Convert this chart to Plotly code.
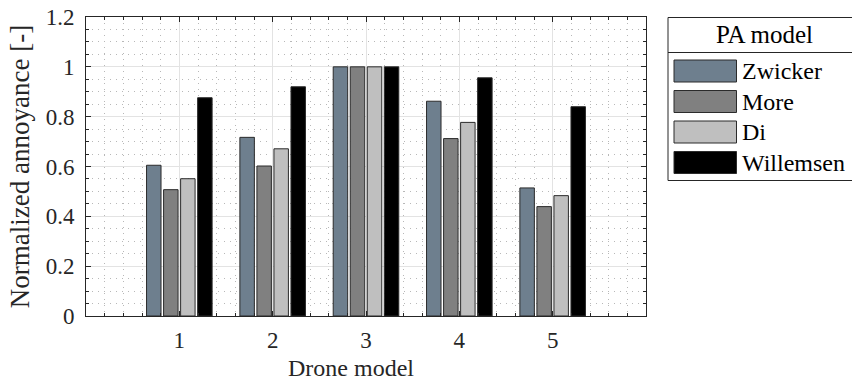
import plotly.graph_objects as go

# Normalized annoyance per drone model, one series per psychoacoustic model
drone_models = [1, 2, 3, 4, 5]
zwicker = [0.605, 0.717, 1.0, 0.862, 0.514]
more = [0.507, 0.602, 1.0, 0.712, 0.439]
di = [0.551, 0.671, 1.0, 0.777, 0.483]
willemsen = [0.876, 0.920, 1.0, 0.956, 0.840]

series_names = ["Zwicker", "More", "Di", "Willemsen"]
series_values = [zwicker, more, di, willemsen]
series_colors = ["#6e7f8e", "#808080", "#bfbfbf", "#000000"]

FONT = "Liberation Serif"
W, H = 852, 384
L, R, T, B = 86, 206, 17, 68

fig = go.Figure()
for name, vals, col in zip(series_names, series_values, series_colors):
    fig.add_trace(go.Bar(
        x=drone_models, y=vals, name=name,
        marker=dict(color=col, line=dict(color="#2b2b2b", width=1)),
        showlegend=False,
    ))

minor_grid = dict(ticks="inside", ticklen=3, tickcolor="#262626",
                  showgrid=True, gridcolor="#b8b8b8", griddash="1px,5px", gridwidth=1)

axis_common = dict(
    showline=True, linecolor="#262626", linewidth=1, mirror="ticks",
    ticks="inside", ticklen=5, tickcolor="#262626",
    showgrid=True, gridcolor="#e3e3e3", gridwidth=1,
    zeroline=False, automargin=False,
    tickfont=dict(family=FONT, size=23, color="#262626"),
)

fig.update_xaxes(
    range=[0, 6], tickvals=drone_models, ticktext=[str(v) for v in drone_models],
    minor=dict(dtick=0.2, tick0=0, **minor_grid),
    ticklabelstandoff=3,
    **axis_common,
)
fig.update_yaxes(
    range=[0, 1.2], dtick=0.2, tick0=0,
    minor=dict(dtick=0.05, tick0=0, **minor_grid),
    title=dict(text="Normalized annoyance [-]", font=dict(family=FONT, size=27, color="#262626"), standoff=8),
    ticklabelstandoff=6,
    **axis_common,
)

fig.update_layout(
    width=W, height=H,
    margin=dict(l=L, r=R, t=T, b=B, pad=0, autoexpand=False),
    barmode="group", bargap=0.27, bargroupgap=0.15,
    plot_bgcolor="white", paper_bgcolor="white",
)

# Pixel layout converted to paper coordinates for the legend and x label
pw, ph = W - L - R, H - T - B
def px(x):
    return (x - L) / pw
def py(y):
    return (H - B - y) / ph

# x-axis label
fig.add_annotation(xref="paper", yref="paper", x=px(351), y=py(368),
                   text="Drone model", showarrow=False, xanchor="center", yanchor="middle",
                   font=dict(family=FONT, size=24, color="#262626"))

# Legend box
box_l, box_r, box_t, box_b = 668, 856, 17.5, 180.5
sep_y = 52.5
fig.add_shape(type="rect", xref="paper", yref="paper",
              x0=px(box_l), x1=px(box_r), y0=py(box_b), y1=py(box_t),
              line=dict(color="#262626", width=1), fillcolor="white", layer="above")
fig.add_shape(type="line", xref="paper", yref="paper",
              x0=px(box_l), x1=px(box_r), y0=py(sep_y), y1=py(sep_y),
              line=dict(color="#262626", width=1), layer="above")
fig.add_annotation(xref="paper", yref="paper", x=px(764), y=py(35),
                   text="PA model", showarrow=False, xanchor="center", yanchor="middle",
                   font=dict(family=FONT, size=25, color="#000000"))

row_top = 60
row_pitch = 30.5
sw_w, sw_h = 62.5, 22
for i, (name, col) in enumerate(zip(series_names, series_colors)):
    y0 = row_top + i * row_pitch
    fig.add_shape(type="rect", xref="paper", yref="paper",
                  x0=px(674), x1=px(674 + sw_w), y0=py(y0 + sw_h), y1=py(y0),
                  line=dict(color="#2b2b2b", width=1), fillcolor=col, layer="above")
    fig.add_annotation(xref="paper", yref="paper", x=px(740), y=py(y0 + sw_h / 2),
                       text=name, showarrow=False, xanchor="left", yanchor="middle",
                       font=dict(family=FONT, size=24, color="#000000"))

fig.write_html("out.html")
